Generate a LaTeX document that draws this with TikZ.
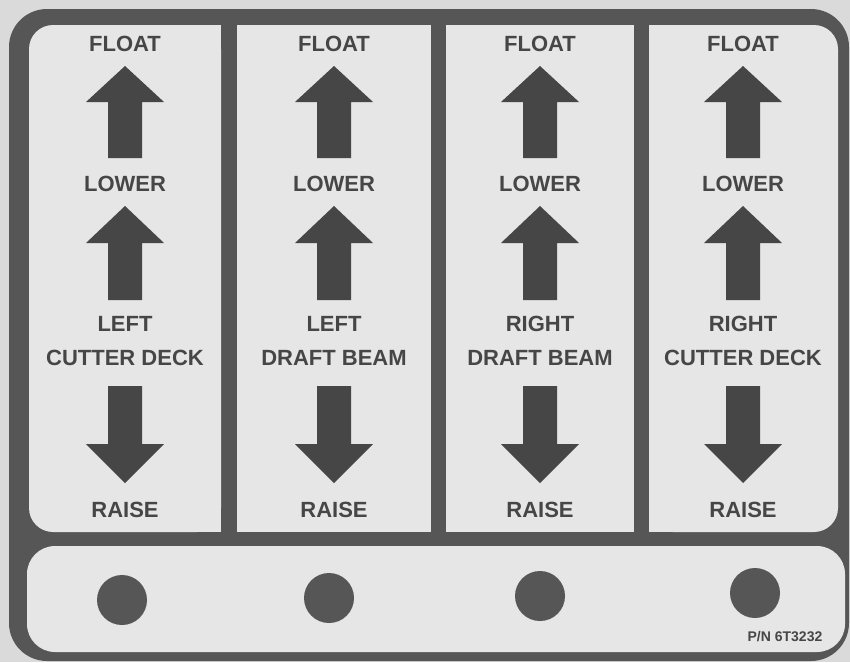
\documentclass[tikz,border=0pt]{standalone}
\usepackage{fontspec}
\setmainfont{Liberation Sans}
\usetikzlibrary{positioning}
\definecolor{paper}{HTML}{DADADA}
\definecolor{frame}{HTML}{565656}
\definecolor{panel}{HTML}{E6E6E6}
\definecolor{ink}{HTML}{464646}
\begin{document}
\begin{tikzpicture}[x=1pt,y=-1pt,
    lbl/.style={text=ink,inner sep=0pt,font=\bfseries\fontsize{22}{22}\selectfont},
    small/.style={text=ink,inner sep=0pt,font=\bfseries\fontsize{14}{14}\selectfont},
    knob/.style={circle,fill=frame,minimum size=50pt,inner sep=0pt}]
  \useasboundingbox (0,0) rectangle (850,662);
  \fill[paper] (0,0) rectangle (850,662);
  \fill[frame,rounded corners=38pt] (9,9) rectangle (849,661);
  % top panels
  \fill[panel,rounded corners=24pt] (29,25) rectangle (221,532);
  \fill[panel] (125,25) rectangle (221,532);
  \fill[panel] (237,25) rectangle (431,532);
  \fill[panel] (446,25) rectangle (634,532);
  \fill[panel,rounded corners=24pt] (649,25) rectangle (838,532);
  \fill[panel] (649,25) rectangle (743,532);
  % bottom strip
  \fill[panel,rounded corners=28pt] (27,546) rectangle (845,652);
  \foreach \i/\cx/\side/\part in {1/125/LEFT/CUTTER DECK,2/334/LEFT/DRAFT BEAM,3/540/RIGHT/DRAFT BEAM,4/743/RIGHT/CUTTER DECK}{
    \node[lbl] (float\i) at (\cx,44) {FLOAT};
    \fill[ink] (\cx,66) -- (\cx+39,102) -- (\cx+17,102) -- (\cx+17,158) -- (\cx-17,158) -- (\cx-17,102) -- (\cx-39,102) -- cycle;
    \node[lbl] (lower\i) at (\cx,184) {LOWER};
    \fill[ink] (\cx,206) -- (\cx+39,243) -- (\cx+17,243) -- (\cx+17,300) -- (\cx-17,300) -- (\cx-17,243) -- (\cx-39,243) -- cycle;
    \node[lbl] (side\i) at (\cx,324) {\side};
    \node[lbl] (part\i) at (\cx,358) {\part};
    \fill[ink] (\cx-17,386) -- (\cx+17,386) -- (\cx+17,444) -- (\cx+39,444) -- (\cx,483) -- (\cx-39,444) -- (\cx-17,444) -- cycle;
    \node[lbl] (raise\i) at (\cx,510) {RAISE};
  }
  \foreach \i/\kx/\ky in {1/122/600,2/329/598,3/540/596,4/755/593}{
    \node[knob] (knob\i) at (\kx,\ky) {};
  }
  \node[small] (pn) at (785,637) {P/N 6T3232};
\end{tikzpicture}
\end{document}
